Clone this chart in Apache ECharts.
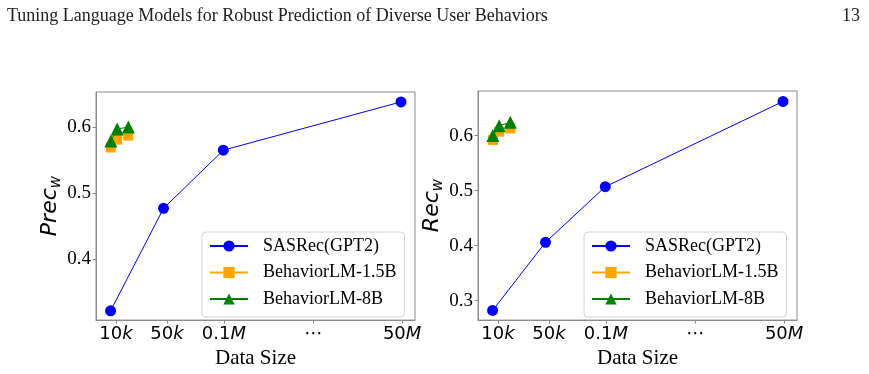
<!DOCTYPE html>
<html>
<head>
<meta charset="utf-8">
<script src="https://cdn.jsdelivr.net/npm/echarts@6/dist/echarts.min.js"></script>
<style>
  html, body { margin: 0; padding: 0; background: #fff; }
  #chart { width: 869px; height: 374px; }
</style>
</head>
<body>
<div id="chart"></div>
<script>
// --- Data (x positions are the plot's own tick positions, 10k -> 0, 50M -> 1) ---
const xTickPos = [0, 0.178, 0.377, 0.689, 1];
const xTickText = ['10|k', '50|k', '0.1|M', '⋯|', '50|M'];

const sasrecX = [-0.019, 0.166, 0.375, 0.996];
const behaviorX = [-0.018, 0.004, 0.043];

const precSasrec = [0.322, 0.477, 0.565, 0.638];
const precLM15 = [0.569, 0.581, 0.587];
const precLM8 = [0.579, 0.597, 0.600];

const recSasrec = [0.282, 0.406, 0.507, 0.662];
const recLM15 = [0.592, 0.607, 0.613];
const recLM8 = [0.600, 0.618, 0.624];

const precTicks = [0.4, 0.5, 0.6];
const recTicks = [0.3, 0.4, 0.5, 0.6];

const seriesNames = ['SASRec(GPT2)', 'BehaviorLM-1.5B', 'BehaviorLM-8B'];
const colors = ['#0000ff', '#ffa500', '#008000'];
const symbols = ['circle', 'rect', 'triangle'];
const symbolSizes = [11, 10, 13];

// --- Helpers ---
const SERIF = 'Liberation Serif';
const AXIS_GREY = '#8c8c8c';

function zip(xs, ys) {
    return xs.map((x, i) => [x, ys[i]]);
}

function xLabel(v) {
    let idx = 0, best = Infinity;
    xTickPos.forEach((p, i) => {
        const d = Math.abs(p - v);
        if (d < best) { best = d; idx = i; }
    });
    const [num, unit] = xTickText[idx].split('|');
    return unit ? `{n|${num}}{i|${unit}}` : `{n|${num}}`;
}

function xAxisFor(gridIndex) {
    return {
        gridIndex, type: 'value', min: -0.07, max: 1.045,
        name: 'Data Size', nameLocation: 'middle', nameGap: 27,
        nameTextStyle: { fontFamily: SERIF, fontSize: 21, color: '#000' },
        axisLine: { onZero: false, lineStyle: { color: AXIS_GREY, width: 1 } },
        axisTick: { show: true, length: 3.5, customValues: xTickPos, lineStyle: { color: AXIS_GREY } },
        axisLabel: {
            customValues: xTickPos, margin: 5, formatter: xLabel,
            rich: {
                n: { fontFamily: 'DejaVu Sans', fontSize: 18, color: '#000', lineHeight: 18 },
                i: { fontFamily: 'DejaVu Sans', fontStyle: 'italic', fontSize: 18, color: '#000', lineHeight: 18 },
            },
        },
        splitLine: { show: false },
    };
}

function yAxisFor(gridIndex, min, max, ticks, main, nameGap) {
    return {
        gridIndex, type: 'value', min, max,
        name: `{m|${main}}{s|w}`, nameLocation: 'middle', nameGap,
        nameTextStyle: {
            rich: {
                m: { fontFamily: 'DejaVu Sans', fontStyle: 'italic', fontSize: 22, color: '#000', lineHeight: 26 },
                s: { fontFamily: 'DejaVu Sans', fontStyle: 'italic', fontSize: 15, color: '#000', lineHeight: 14, verticalAlign: 'bottom' },
            },
        },
        axisLine: { show: true, onZero: false, lineStyle: { color: AXIS_GREY, width: 1 } },
        axisTick: { show: true, length: 3.5, customValues: ticks, lineStyle: { color: AXIS_GREY } },
        axisLabel: {
            customValues: ticks, margin: 5,
            formatter: v => `{t|${v.toFixed(1)}}`,
            rich: { t: { fontFamily: SERIF, fontSize: 19, color: '#000', lineHeight: 20 } },
        },
        splitLine: { show: false },
    };
}

function seriesFor(gridIndex, sas, lm15, lm8) {
    const sets = [zip(sasrecX, sas), zip(behaviorX, lm15), zip(behaviorX, lm8)];
    return sets.map((data, i) => ({
        name: seriesNames[i], type: 'line',
        xAxisIndex: gridIndex, yAxisIndex: gridIndex,
        data, symbol: symbols[i], symbolSize: symbolSizes[i], showSymbol: true,
        lineStyle: { color: colors[i], width: 1 },
        itemStyle: { color: colors[i] },
        animation: false, z: 2 + i,
    }));
}

function legendFor(left) {
    return {
        left, top: 232, orient: 'vertical',
        itemWidth: 38, itemHeight: 14, itemGap: 6.5,
        padding: [4, 8, 8, 7],
        backgroundColor: 'rgba(255,255,255,0.8)',
        borderColor: '#d4d4d4', borderWidth: 1, borderRadius: 4,
        selectedMode: false,
        textStyle: { fontFamily: SERIF, fontSize: 18, color: '#000', lineHeight: 20, padding: [0, 0, 0, 10] },
        data: seriesNames,
    };
}

const chart = echarts.init(document.getElementById('chart'), null, { renderer: 'canvas' });

chart.setOption({
    animation: false,
    backgroundColor: '#fff',
    title: [
        {
            text: 'Tuning Language Models for Robust Prediction of Diverse User Behaviors',
            left: 2, top: 2,
            textStyle: { fontFamily: SERIF, fontSize: 18, fontWeight: 'normal', color: '#222' },
        },
        {
            text: '13', right: 4, top: 2,
            textStyle: { fontFamily: SERIF, fontSize: 18, fontWeight: 'normal', color: '#222' },
        },
    ],
    grid: [
        { left: 96, right: 454, top: 92, bottom: 49, show: true, borderColor: AXIS_GREY, borderWidth: 1, backgroundColor: 'transparent' },
        { left: 478, right: 72, top: 91, bottom: 49, show: true, borderColor: AXIS_GREY, borderWidth: 1, backgroundColor: 'transparent' },
    ],
    xAxis: [xAxisFor(0), xAxisFor(1)],
    yAxis: [
        yAxisFor(0, 0.308, 0.653, precTicks, 'Prec', 29),
        yAxisFor(1, 0.2645, 0.681, recTicks, 'Rec', 31),
    ],
    legend: [legendFor(202), legendFor(584)],
    series: [
        ...seriesFor(0, precSasrec, precLM15, precLM8),
        ...seriesFor(1, recSasrec, recLM15, recLM8),
    ],
});
</script>
</body>
</html>
